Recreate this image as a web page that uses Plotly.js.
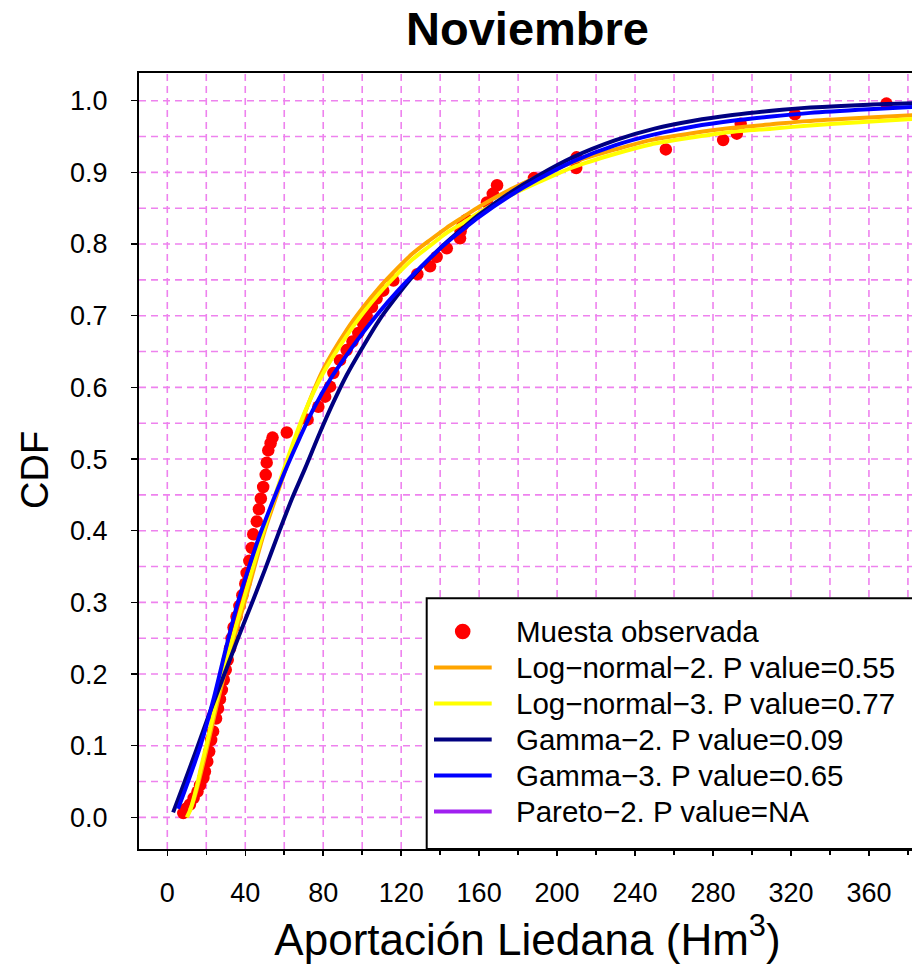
<!DOCTYPE html>
<html>
<head>
<meta charset="utf-8">
<script src="https://cdn.plot.ly/plotly-3.0.1.min.js"></script>
<style>
  html, body { margin: 0; padding: 0; overflow: hidden; background: #fff; }
  #chart { width: 916px; height: 974px; }
</style>
</head>
<body>
<div id="chart"></div>
<script>
// ---------- Data ----------
const chartTitle = 'Noviembre';
const xTitle = 'Aportación Liedana (Hm<sup>3</sup>)';
const yTitle = 'CDF';

// Observed sample (empirical CDF)
const obsX = [8.2, 9.5, 11.6, 13.5, 15.5, 16.8, 18.5, 19.3, 20.5, 21.5, 22.5, 23.5, 25.0, 26.0, 27.0, 28.0, 29.0, 30.0, 31.0, 32.2,
  33.0, 34.0, 35.5, 37.0, 38.5, 40.0, 40.7, 42.1, 43.3, 44.1, 45.9, 47.0, 48.0, 49.2, 50.5, 51.0, 51.8, 53.0, 54.0, 61.3,
  72.0, 77.5, 81.0, 83.5, 85.2, 88.6, 92.0, 95.0, 98.0, 100.5, 102.3, 105.0, 107.4, 110.8, 116.0, 128.3, 134.8, 138.2, 143.4, 150.2,
  150.5, 151.5, 153.6, 164.0, 167.0, 169.2, 188.1, 209.8, 210.0, 255.8, 285.2, 292.2, 294.2, 322.0, 369.0];
const obsY = [0.006, 0.012, 0.018, 0.027, 0.036, 0.045, 0.055, 0.064, 0.078, 0.092, 0.108, 0.120, 0.138, 0.152, 0.165, 0.178, 0.192, 0.206, 0.220, 0.236,
  0.250, 0.265, 0.280, 0.295, 0.310, 0.326, 0.341, 0.358, 0.376, 0.395, 0.413, 0.430, 0.445, 0.461, 0.478, 0.495, 0.512, 0.522, 0.530, 0.537,
  0.555, 0.573, 0.587, 0.601, 0.620, 0.638, 0.652, 0.664, 0.676, 0.689, 0.700, 0.712, 0.724, 0.735, 0.749, 0.758, 0.769, 0.782, 0.794, 0.808,
  0.818, 0.826, 0.834, 0.858, 0.870, 0.882, 0.892, 0.906, 0.921, 0.932, 0.945, 0.954, 0.968, 0.981, 0.996];

// Log-normal-2 (orange)
const lnorm2X = [11.5, 13, 15, 17.5, 20, 25, 30, 35, 40, 50, 60, 70, 80, 92, 100, 109, 118, 126, 135, 143, 152, 160, 169, 177.5, 191, 208, 230, 248, 270, 288, 310, 328, 355, 385];
const lnorm2Y = [0.010, 0.020, 0.038, 0.065, 0.093, 0.152, 0.207, 0.257, 0.303, 0.400, 0.480, 0.560, 0.625, 0.680, 0.710, 0.740, 0.766, 0.787, 0.806, 0.822, 0.838, 0.852, 0.866, 0.878, 0.895, 0.914, 0.932, 0.945, 0.955, 0.9615, 0.967, 0.9715, 0.976, 0.980];

// Log-normal-3 (yellow)
const lnorm3X = [10, 12, 15, 17.5, 20, 25, 30, 35, 40, 50, 60, 70, 80, 92, 100, 109, 118, 126, 135, 143, 152, 160, 169, 177.5, 191, 208, 230, 248, 270, 288, 310, 328, 355, 385];
const lnorm3Y = [0.000, 0.012, 0.042, 0.072, 0.100, 0.160, 0.215, 0.265, 0.312, 0.405, 0.487, 0.562, 0.620, 0.672, 0.702, 0.732, 0.758, 0.779, 0.798, 0.815, 0.830, 0.844, 0.858, 0.870, 0.887, 0.907, 0.926, 0.939, 0.949, 0.956, 0.961, 0.965, 0.970, 0.975];

// Gamma-2 (navy)
const gamma2X = [3, 8, 15, 22, 30, 37, 44, 50, 57, 64, 70.7, 78, 85, 92, 100, 109, 118, 126, 135, 143, 152, 160, 175, 190, 208, 230, 250, 270, 290, 310, 330, 360, 385];
const gamma2Y = [0.007, 0.043, 0.095, 0.148, 0.205, 0.255, 0.303, 0.345, 0.396, 0.445, 0.487, 0.535, 0.578, 0.617, 0.655, 0.695, 0.728, 0.755, 0.781, 0.802, 0.823, 0.841, 0.870, 0.895, 0.921, 0.945, 0.961, 0.972, 0.980, 0.986, 0.9905, 0.9945, 0.9965];

// Gamma-3 (blue)
const gamma3X = [5.5, 10, 17, 24, 30, 36, 42, 47.6, 55, 61.3, 68, 75, 84, 92, 100, 109, 118, 126, 135, 143, 152, 160, 175, 190, 208, 230, 250, 270, 290, 310, 330, 360, 385];
const gamma3Y = [0.012, 0.045, 0.100, 0.168, 0.235, 0.298, 0.350, 0.395, 0.447, 0.489, 0.530, 0.570, 0.613, 0.645, 0.675, 0.706, 0.734, 0.757, 0.781, 0.801, 0.821, 0.838, 0.866, 0.890, 0.915, 0.938, 0.953, 0.964, 0.972, 0.978, 0.983, 0.988, 0.9915];

// Axis ticks and grid positions
const xTickVals = [0, 40, 80, 120, 160, 200, 240, 280, 320, 360];
const xTickText = ['0', '40', '80', '120', '160', '200', '240', '280', '320', '360'];
const xMinorVals = [20, 60, 100, 140, 180, 220, 260, 300, 340, 380];
const xGridVals = [0, 20, 40, 60, 80, 100, 120, 140, 160, 180, 200, 220, 240, 260, 280, 300, 320, 340, 360, 380];
const yTickVals = [0, 0.1, 0.2, 0.3, 0.4, 0.5, 0.6, 0.7, 0.8, 0.9, 1.0];
const yTickText = ['0.0', '0.1', '0.2', '0.3', '0.4', '0.5', '0.6', '0.7', '0.8', '0.9', '1.0'];
const yGridVals = [0, 0.05, 0.1, 0.15, 0.2, 0.25, 0.3, 0.35, 0.4, 0.45, 0.5, 0.55, 0.6, 0.65, 0.7, 0.75, 0.8, 0.85, 0.9, 0.95, 1.0];

// Legend entries
const legendLabels = ['Muesta observada', 'Log\u2212normal\u22122. P value=0.55', 'Log\u2212normal\u22123. P value=0.77',
  'Gamma\u22122. P value=0.09', 'Gamma\u22123. P value=0.65', 'Pareto\u22122. P value=NA'];
const legendColors = ['#FF0000', '#FFA500', '#FFFF00', '#000080', '#0000FF', '#A020F0'];
const legendKinds = ['point', 'line', 'line', 'line', 'line', 'line'];

// ---------- Layout geometry ----------
const W = 916, H = 974;
const M = { l: 139, r: 0, t: 73, b: 125 };
const plotW = W - M.l - M.r, plotH = H - M.t - M.b;
const pxX = p => (p - M.l) / plotW;          // page pixel -> paper x
const pxY = p => (H - M.b - p) / plotH;      // page pixel -> paper y
const xRange = [(M.l - 167.3) / 1.949, (W - 167.3) / 1.949];
const yRange = [-(849 - 817.4) / 716.7, 1 + (100.7 - 73) / 716.7];

const font = 'Liberation Sans, Arial, Helvetica, sans-serif';
const GRID = '#EE82EE';
const DASH = '7px,5px';

const lineW = 4;
const traces = [
  { x: obsX, y: obsY, type: 'scatter', mode: 'markers', name: legendLabels[0],
    marker: { color: legendColors[0], size: 12.5 } },
  { x: lnorm2X, y: lnorm2Y, type: 'scatter', mode: 'lines', name: legendLabels[1],
    line: { color: legendColors[1], width: lineW, shape: 'spline', smoothing: 0.8 } },
  { x: lnorm3X, y: lnorm3Y, type: 'scatter', mode: 'lines', name: legendLabels[2],
    line: { color: legendColors[2], width: lineW, shape: 'spline', smoothing: 0.8 } },
  { x: gamma2X, y: gamma2Y, type: 'scatter', mode: 'lines', name: legendLabels[3],
    line: { color: legendColors[3], width: lineW, shape: 'spline', smoothing: 0.8 } },
  { x: gamma3X, y: gamma3Y, type: 'scatter', mode: 'lines', name: legendLabels[4],
    line: { color: legendColors[4], width: lineW, shape: 'spline', smoothing: 0.8 } },
  // empty helper trace so the overlay minor-tick axis (x2) exists
  { x: [], y: [], type: 'scatter', mode: 'markers', xaxis: 'x2', yaxis: 'y', showlegend: false, hoverinfo: 'skip' }
];

// Dashed violet grid (R-style), drawn below the data
const shapes = [];
xGridVals.forEach(v => shapes.push({ type: 'line', xref: 'x', yref: 'paper', layer: 'below',
  x0: v, x1: v, y0: 0, y1: 1, line: { color: GRID, width: 1.6, dash: DASH } }));
yGridVals.forEach(v => shapes.push({ type: 'line', xref: 'paper', yref: 'y', layer: 'below',
  x0: 0, x1: 1, y0: v, y1: v, line: { color: GRID, width: 1.6, dash: DASH } }));

// Custom legend box built from shapes + annotations
const legBox = { left: 426.7, top: 598.3 };
const rowY = [631.5, 667.5, 703.5, 739.5, 775.5, 811.5];
shapes.push({
  type: 'rect', xref: 'paper', yref: 'paper', layer: 'above',
  x0: pxX(legBox.left), x1: pxX(W + 20), y0: 0, y1: pxY(legBox.top),
  line: { color: '#000', width: 2 }, fillcolor: '#fff'
});
const annotations = [];
legendLabels.forEach((lab, i) => {
  if (legendKinds[i] === 'point') {
    const r = 7.8, cx = 462.7;
    shapes.push({ type: 'circle', xref: 'paper', yref: 'paper', layer: 'above',
      x0: pxX(cx - r), x1: pxX(cx + r), y0: pxY(rowY[i] + r), y1: pxY(rowY[i] - r),
      fillcolor: legendColors[i], line: { color: legendColors[i], width: 0 } });
  } else {
    shapes.push({ type: 'line', xref: 'paper', yref: 'paper', layer: 'above',
      x0: pxX(434), x1: pxX(491.7), y0: pxY(rowY[i]), y1: pxY(rowY[i]),
      line: { color: legendColors[i], width: 4 } });
  }
  annotations.push({ xref: 'paper', yref: 'paper', x: pxX(514), y: pxY(rowY[i]),
    xanchor: 'left', yanchor: 'middle', showarrow: false, text: lab,
    font: { family: font, size: 29.5, color: '#000' } });
});
// y-axis title, placed like the reference (slightly below the plot centre)
annotations.push({ xref: 'paper', yref: 'paper', x: pxX(35), y: pxY(470),
  xanchor: 'center', yanchor: 'middle', showarrow: false, textangle: -90, text: yTitle,
  font: { family: font, size: 38, color: '#000' } });

const layout = {
  width: W, height: H,
  margin: M,
  paper_bgcolor: '#fff', plot_bgcolor: '#fff',
  showlegend: false,
  font: { family: font, color: '#000' },
  title: { text: '<b>' + chartTitle + '</b>', x: 0.5, xref: 'paper', xanchor: 'center',
    y: 1 - 29 / H, yref: 'container', yanchor: 'middle',
    font: { family: font, size: 47, color: '#000' } },
  xaxis: {
    range: xRange,
    tickmode: 'array', tickvals: xTickVals, ticktext: xTickText,
    ticks: 'outside', ticklen: 5, tickwidth: 1.5, tickcolor: '#000',
    ticklabelstandoff: 14,
    tickfont: { family: font, size: 27, color: '#000' },
    showline: true, linecolor: '#000', linewidth: 2, mirror: true, zeroline: false,
    showgrid: false,
    title: { text: xTitle, font: { family: font, size: 44, color: '#000' }, standoff: 14 }
  },
  xaxis2: {
    overlaying: 'x', anchor: 'y', side: 'bottom', range: xRange,
    tickmode: 'array', tickvals: xMinorVals, showticklabels: false,
    ticks: 'outside', ticklen: 5, tickwidth: 1.5, tickcolor: '#000',
    showline: false, zeroline: false, showgrid: false
  },
  yaxis: {
    range: yRange,
    tickmode: 'array', tickvals: yTickVals, ticktext: yTickText,
    ticks: 'outside', ticklen: 6, tickwidth: 1.5, tickcolor: '#000',
    ticklabelstandoff: 18,
    tickfont: { family: font, size: 27, color: '#000' },
    showline: true, linecolor: '#000', linewidth: 2, mirror: true, zeroline: false,
    showgrid: false
  },
  shapes: shapes,
  annotations: annotations
};

Plotly.newPlot('chart', traces, layout, { displayModeBar: false, staticPlot: true });
</script>
</body>
</html>
